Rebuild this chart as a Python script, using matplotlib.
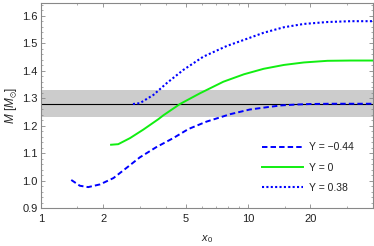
import matplotlib
matplotlib.use("Agg")
import matplotlib.pyplot as plt
from matplotlib.ticker import FixedLocator, MultipleLocator, FixedFormatter

plt.rcParams['font.family'] = ['Liberation Sans', 'DejaVu Sans']
plt.rcParams['mathtext.fontset'] = 'custom'
plt.rcParams['mathtext.rm'] = 'Liberation Sans'
plt.rcParams['mathtext.it'] = 'Liberation Sans:italic'
plt.rcParams['mathtext.fallback'] = 'stixsans'

# ---- data ----
neg_x = [1.40, 1.54, 1.69, 1.93, 2.24, 2.6, 3.0, 3.6, 4.35, 5.15, 6.3, 8.2, 10.2, 12.5, 14.5, 17, 20, 25, 32, 40]
neg_y = [1.003, 0.982, 0.977, 0.987, 1.010, 1.048, 1.085, 1.122, 1.155, 1.188, 1.215, 1.242, 1.259, 1.268, 1.274, 1.277, 1.279, 1.280, 1.280, 1.280]

zero_x = [2.18, 2.36, 2.69, 3.12, 3.69, 3.9, 4.69, 5.86, 7.6, 9.55, 11.9, 14.9, 18.6, 24.2, 31.4, 40]
zero_y = [1.131, 1.133, 1.155, 1.186, 1.224, 1.238, 1.279, 1.318, 1.360, 1.387, 1.407, 1.421, 1.430, 1.436, 1.437, 1.437]

pos_x = [2.78, 3.0, 3.49, 4.05, 4.87, 6.08, 7.9, 9.55, 11.9, 14.9, 18.6, 24.2, 31.4, 40]
pos_y = [1.279, 1.282, 1.312, 1.355, 1.403, 1.451, 1.490, 1.512, 1.538, 1.558, 1.570, 1.577, 1.580, 1.580]

labels = ["Y = \u22120.44", "Y = 0", "Y = 0.38"]

band_low, band_high = 1.23, 1.33
ref_mass = 1.28

x_major = [1, 2, 5, 10, 20]
x_major_labels = ["1", "2", "5", "10", "20"]
x_minor = [1.5, 3, 4, 6, 7, 8, 9, 15, 30]
y_major = [0.9, 1.0, 1.1, 1.2, 1.3, 1.4, 1.5, 1.6]
y_major_labels = ["0.9", "1.0", "1.1", "1.2", "1.3", "1.4", "1.5", "1.6"]

# ---- figure ----
fig = plt.figure(figsize=(3.74, 2.46), dpi=100)
ax = fig.add_axes([41/374, 1-208.3/246, (372.7-41)/374, (208.3-3.3)/246])

ax.axhspan(band_low, band_high, color='#cccccc', lw=0, zorder=1)
ax.axhline(ref_mass, color='black', lw=0.8, zorder=2)

ax.plot(neg_x, neg_y, color='#0000ff', lw=1.4, ls=(0, (2.8, 1.6)), label=labels[0], zorder=3)
ax.plot(zero_x, zero_y, color='#11ee11', lw=1.4, ls='-', label=labels[1], zorder=3)
ax.plot(pos_x, pos_y, color='#0000ff', lw=1.5, ls=(0, (1.0, 1.1)), label=labels[2], zorder=3)

ax.set_xscale('log')
ax.set_xlim(1, 40)
ax.set_ylim(0.9, 1.645)

ax.xaxis.set_major_locator(FixedLocator(x_major))
ax.xaxis.set_major_formatter(FixedFormatter(x_major_labels))
ax.xaxis.set_minor_locator(FixedLocator(x_minor))
ax.xaxis.set_minor_formatter(FixedFormatter([""] * len(x_minor)))
ax.yaxis.set_major_locator(FixedLocator(y_major))
ax.yaxis.set_major_formatter(FixedFormatter(y_major_labels))
ax.yaxis.set_minor_locator(MultipleLocator(0.02))

ax.tick_params(which='both', direction='in', top=True, right=True, color='#888888',
               labelsize=8.0, labelcolor='#222222')
ax.tick_params(axis='x', pad=4)
ax.tick_params(axis='y', pad=2.5)
ax.tick_params(which='major', length=3.2, width=0.6)
ax.tick_params(which='minor', length=1.7, width=0.5)
for s in ax.spines.values():
    s.set_color('#888888')
    s.set_linewidth(0.8)

ax.set_xlabel(r"$x_0$", fontsize=8.0, color='#222222', labelpad=7)
ax.set_ylabel(r"$M\ [M_{\odot}]$", fontsize=8.5, color='#222222', labelpad=2.5)

leg = ax.legend(loc='upper left', bbox_to_anchor=((255-41)/(372.7-41), (208.3-135)/205),
                frameon=False, fontsize=7.5, handlelength=3.9, handletextpad=0.6,
                labelspacing=1.0, borderpad=0.2)
for t in leg.get_texts():
    t.set_color('#222222')

fig.savefig("out.png", dpi=100)
